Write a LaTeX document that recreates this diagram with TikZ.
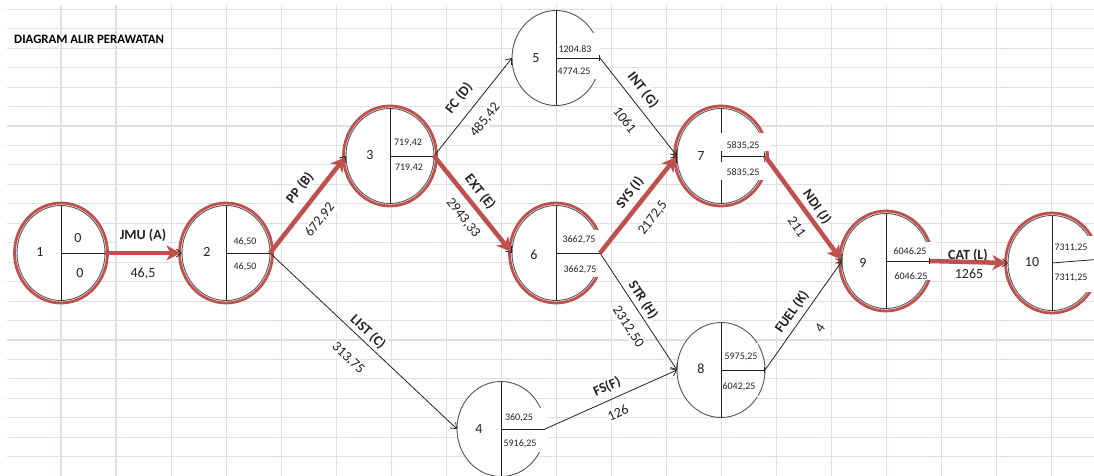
\documentclass[tikz,border=0pt]{standalone}
\usepackage{fontspec}
\setmainfont{Carlito}
\usetikzlibrary{shapes.geometric,arrows.meta}
\definecolor{gridc}{RGB}{220,224,236}
\definecolor{crit}{RGB}{192,80,77}
\definecolor{circ}{RGB}{85,85,85}
\definecolor{ink}{RGB}{35,35,35}
\tikzset{
  gridline/.style={draw=gridc, line width=1.1pt},
  evt/.style={ellipse, draw=circ, fill=white, line width=0.9pt, minimum width=88pt, minimum height=95pt, inner sep=0pt, outer sep=0pt},
  ring/.style={ellipse, draw=crit, line width=2.8pt, minimum width=93pt, minimum height=100pt, inner sep=0pt, outer sep=0pt},
  div/.style={draw=ink, line width=0.8pt},
  gapbox/.style={fill=white},
  num/.style={font=\fontsize{14}{16}\selectfont, text=ink, inner sep=0pt},
  val/.style={font=\fontsize{10}{12}\selectfont, text=ink, inner sep=0pt},
  bigval/.style={font=\fontsize{14}{16}\selectfont, text=ink, inner sep=0pt},
  actname/.style={font=\bfseries\fontsize{14}{16}\selectfont, text=ink, fill=white, inner sep=1.5pt},
  dur/.style={font=\fontsize{14}{16}\selectfont, text=ink, fill=white, inner sep=1.5pt},
  act/.style={draw=ink, line width=0.8pt, -{Straight Barb[length=5pt,width=8pt]}},
  critact/.style={draw=crit, line width=4.5pt, shorten >=1.5pt, -{Stealth[length=14pt,width=15pt,inset=4pt]}},
  title/.style={font=\bfseries\fontsize{12.8}{14}\selectfont, text=black, inner sep=0pt}
}
\begin{document}
\begin{tikzpicture}[x=1pt,y=-1pt]
\useasboundingbox (0,0) rectangle (1094,476);
\fill[white] (0,0) rectangle (1094,476);
% spreadsheet grid
\foreach \k in {0,...,18} \draw[gridline] ({61+55.04*\k},5) -- ({61+55.04*\k},476);
\foreach \j in {0,...,23} \draw[gridline] (7,{9.3+19.45*\j}) -- (1094,{9.3+19.45*\j});

\node[title, anchor=base west] (title) at (14,44) {DIAGRAM ALIR PERAWATAN};

% activity labels
\node[actname] (lA) at (143,235) {JMU (A)};
\node[actname, rotate=51.6] (lB) at (300,188) {PP (B)};
\node[actname, rotate=-43] (lC) at (368,332) {LIST (C)};
\node[actname, rotate=51.5] (lD) at (459,98) {FC (D)};
\node[actname, rotate=-51.6] (lE) at (480,192) {EXT (E)};
\node[actname, rotate=24] (lF) at (607,387) {FS(F)};
\node[actname, rotate=-52] (lG) at (643,90) {INT (G)};
\node[actname, rotate=-57] (lH) at (643,300) {STR (H)};
\node[actname, rotate=53] (lI) at (630,193) {SYS (I)};
\node[actname, rotate=-55] (lJ) at (817,207) {NDI (J)};
\node[actname, rotate=55] (lK) at (792,312) {FUEL (K)};
\node[actname] (lL) at (968,255) {CAT (L)};

\node[dur] (dA) at (143,274) {46,5};
\node[dur, rotate=51.6] (dB) at (320,220) {672,92};
\node[dur, rotate=-43] (dC) at (348,358) {313,75};
\node[dur, rotate=51.5] (dD) at (485,120) {485,42};
\node[dur, rotate=-51.6] (dE) at (463,218) {2943,33};
\node[dur, rotate=24] (dF) at (618,413) {126};
\node[dur, rotate=-52] (dG) at (625,120) {1061};
\node[dur, rotate=-57] (dH) at (628,327) {2312,50};
\node[dur, rotate=53] (dI) at (653,218) {2172,5};
\node[dur, rotate=-55] (dJ) at (797,227) {211};
\node[dur, rotate=55] (dK) at (820,328) {4};
\node[dur] (dL) at (969,274) {1265};

% events
\node[evt] (n1) at (61,253) {};
\node[evt] (n2) at (226,253) {};
\node[evt] (n3) at (390,156) {};
\node[evt] (n4) at (501,429) {};
\node[evt] (n5) at (556,58) {};
\node[evt] (n6) at (556,253) {};
\node[evt] (n7) at (721,156) {};
\node[evt] (n8) at (721,370) {};
\node[evt] (n9) at (886,261) {};
\node[evt] (n10) at (1052,263) {};

\foreach \n in {1,2,3,6,7,9,10} \node[ring] (r\n) at (n\n) {};

\foreach \n in {1,...,10} \draw[div] (n\n.north) -- (n\n.south);

% white text boxes that cover parts of the circles
\fill[gapbox] (502,408) rectangle (548,452);
\fill[gapbox] (557,33) rectangle (601,79);
\fill[gapbox] (557,230) rectangle (606,277);
\fill[gapbox] (717,133) rectangle (770,151);
\fill[gapbox] (717,162) rectangle (770,180);
\fill[gapbox] (723,343) rectangle (758,397);
\fill[gapbox] (888,242) rectangle (936,280);
\fill[gapbox] (1054,236) rectangle (1094,292);

% horizontal dividers
\draw[div] (n1.center) -- (n1.east);
\draw[div] (n2.center) -- (n2.east);
\draw[div] (n3.center) -- (n3.east);
\draw[div] (n4.center) -- (n4.east);
\draw[div, -{Bar[width=6pt]}] (n5.center) -- (n5.east);
\draw[div] (n6.center) -- (n6.east);
\draw[div, {Bar[width=6pt]}-{Bar[width=6pt]}] (n7.center) -- (n7.east);
\draw[div, -{Bar[width=6pt]}] (n8.center) -- (n8.east);
\draw[div, -{Bar[width=6pt]}] (n9.center) -- (n9.east);
\draw[div] (n10.center) -- (1096,259.5);

% event numbers
\node[num] (k1) at (40,252) {1};
\node[num] (k2) at (207,252) {2};
\node[num] (k3) at (370,155) {3};
\node[num] (k4) at (479,429) {4};
\node[num] (k5) at (536,58) {5};
\node[num] (k6) at (534,255) {6};
\node[num] (k7) at (701,156) {7};
\node[num] (k8) at (701,369) {8};
\node[num] (k9) at (863,263) {9};
\node[num] (k10) at (1032,262) {10};

% event times
\node[bigval] (v1a) at (78,238) {0};
\node[bigval] (v1b) at (80,273) {0};
\node[val] (v2a) at (245,242) {46,50};
\node[val] (v2b) at (245,267) {46,50};
\node[val] (v3a) at (408,143) {719,42};
\node[val] (v3b) at (409,167) {719.42};
\node[val] (v4a) at (519,418) {360,25};
\node[val] (v4b) at (520,444) {5916,25};
\node[val] (v5a) at (575,49) {1204.83};
\node[val] (v5b) at (574,71) {4774.25};
\node[val] (v6a) at (579,240) {3662,75};
\node[val] (v6b) at (580,270) {3662,75};
\node[val] (v7a) at (743,146) {5835,25};
\node[val] (v7b) at (743,173) {5835,25};
\node[val] (v8a) at (741,357) {5975,25};
\node[val] (v8b) at (739,387) {6042,25};
\node[val] (v9a) at (910,251) {6046.25};
\node[val] (v9b) at (911,276) {6046.25};
\node[val] (v10a) at (1071,248) {7311,25};
\node[val] (v10b) at (1071,278) {7311,25};

% activities (black)
\draw[act] (n1.east) -- (n2.west);
\draw[act] (n2.east) -- (n3.west);
\draw[act] (n2.east) -- (n4.west);
\draw[act] (n3.east) -- (n5.west);
\draw[act] (n3.east) -- (n6.west);
\draw[act] (n4.east) -- (n8.west);
\draw[act] (n5.east) -- (n7.west);
\draw[act] (n6.east) -- (n8.west);
\draw[act] (n6.east) -- (n7.west);
\draw[act] (n7.east) -- (n9.west);
\draw[act] (n8.east) -- (n9.west);
\draw[act] (n9.east) -- (n10.west);
% critical path highlight
\draw[critact] (n1.east) -- (n2.west);
\draw[critact] (n2.east) -- (n3.west);
\draw[critact] (n3.east) -- (n6.west);
\draw[critact] (n6.east) -- (n7.west);
\draw[critact] (n7.east) -- (n9.west);
\draw[critact] (n9.east) -- (n10.west);
\end{tikzpicture}
\end{document}
